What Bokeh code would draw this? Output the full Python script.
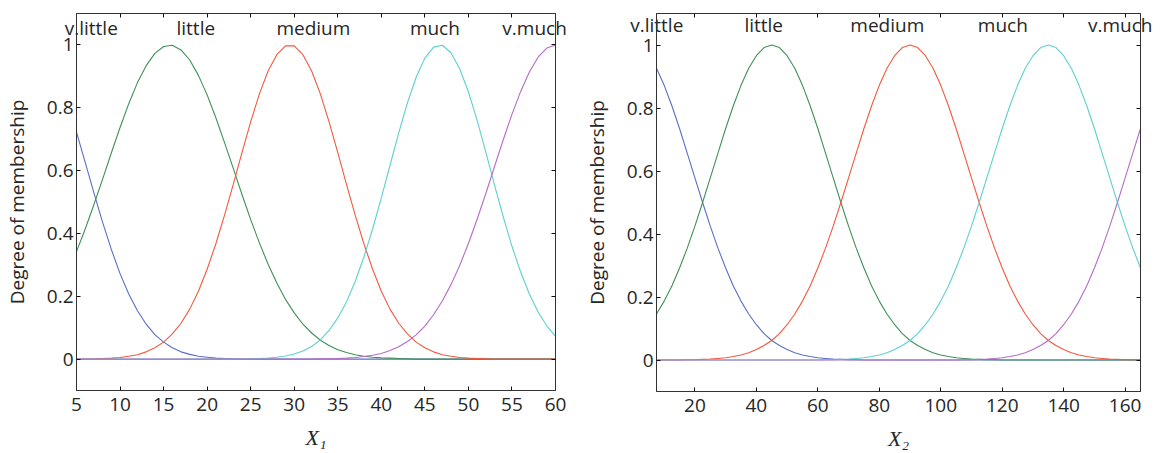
from bokeh.plotting import figure
from bokeh.models import (Range1d, LinearAxis, FixedTicker, CustomJSTickFormatter,
                          CustomLabelingPolicy)
from bokeh.layouts import row
from bokeh.embed import file_html
from bokeh.resources import INLINE

mf_names = ["v.little", "little", "medium", "much", "v.much"]

# ---- Panel 1 (input X1) : membership degree ----
x1 = [5, 6, 7, 8, 9, 10, 11, 12, 13, 14, 15, 16, 17, 18, 19, 20, 21, 22, 23, 24,
      25, 26, 27, 28, 29, 30, 31, 32, 33, 34, 35, 36, 37, 38, 39, 40, 41, 42, 43, 44,
      45, 46, 47, 48, 49, 50, 51, 52, 53, 54, 55, 56, 57, 58, 59, 60]
x1_vlittle = [0.722, 0.626, 0.529, 0.435, 0.349, 0.272, 0.207, 0.154, 0.111, 0.078,
              0.054, 0.036, 0.023, 0.015, 0.009, 0.006, 0.003, 0.002, 0.001, 0,
              0, 0, 0, 0, 0, 0, 0, 0, 0, 0, 0, 0, 0, 0, 0, 0, 0, 0, 0, 0,
              0, 0, 0, 0, 0, 0, 0, 0, 0, 0, 0, 0, 0, 0, 0, 0]
x1_little = [0.342, 0.414, 0.492, 0.573, 0.656, 0.737, 0.813, 0.880, 0.934, 0.973,
             0.995, 0.999, 0.984, 0.952, 0.903, 0.841, 0.768, 0.689, 0.607, 0.524,
             0.444, 0.370, 0.302, 0.242, 0.190, 0.147, 0.111, 0.083, 0.060, 0.043,
             0.030, 0.021, 0.014, 0.009, 0.006, 0.004, 0.003, 0.002, 0.001, 0,
             0, 0, 0, 0, 0, 0, 0, 0, 0, 0, 0, 0, 0, 0, 0, 0]
x1_medium = [0, 0, 0.001, 0.002, 0.003, 0.005, 0.009, 0.014, 0.023, 0.036,
             0.054, 0.080, 0.114, 0.159, 0.216, 0.286, 0.367, 0.458, 0.556, 0.657,
             0.755, 0.844, 0.917, 0.969, 0.997, 0.997, 0.969, 0.917, 0.844, 0.755,
             0.657, 0.556, 0.458, 0.367, 0.286, 0.216, 0.159, 0.114, 0.080, 0.054,
             0.036, 0.023, 0.014, 0.009, 0.005, 0.003, 0.002, 0.001, 0, 0,
             0, 0, 0, 0, 0, 0]
x1_much = [0, 0, 0, 0, 0, 0, 0, 0, 0, 0, 0, 0, 0, 0, 0, 0, 0, 0, 0, 0,
           0.001, 0.002, 0.003, 0.006, 0.010, 0.016, 0.026, 0.040, 0.061, 0.091,
           0.131, 0.182, 0.247, 0.325, 0.414, 0.513, 0.617, 0.720, 0.816, 0.897,
           0.958, 0.993, 0.999, 0.975, 0.924, 0.851, 0.760, 0.659, 0.554, 0.453,
           0.359, 0.277, 0.207, 0.150, 0.106, 0.072]
x1_vmuch = [0, 0, 0, 0, 0, 0, 0, 0, 0, 0, 0, 0, 0, 0, 0, 0, 0, 0, 0, 0,
            0, 0, 0, 0, 0, 0, 0, 0, 0.001, 0.001, 0.002, 0.003, 0.005, 0.008, 0.012,
            0.018, 0.027, 0.039, 0.056, 0.077, 0.105, 0.141, 0.185, 0.237, 0.298,
            0.368, 0.445, 0.527, 0.613, 0.698, 0.779, 0.852, 0.914, 0.961, 0.990, 1.000]

# ---- Panel 2 (input X2) ----
x2 = [7.5, 10, 12.5, 15, 17.5, 20, 22.5, 25, 27.5, 30, 32.5, 35, 37.5, 40, 42.5, 45,
      47.5, 50, 52.5, 55, 57.5, 60, 62.5, 65, 67.5, 70, 72.5, 75, 77.5, 80, 82.5, 85,
      87.5, 90, 92.5, 95, 97.5, 100, 102.5, 105, 107.5, 110, 112.5, 115, 117.5, 120,
      122.5, 125, 127.5, 130, 132.5, 135, 137.5, 140, 142.5, 145, 147.5, 150, 152.5,
      155, 157.5, 160, 162.5, 165]
x2_vlittle = [0.926, 0.872, 0.807, 0.735, 0.657, 0.578, 0.500, 0.425, 0.355, 0.292,
              0.235, 0.187, 0.146, 0.112, 0.084, 0.062, 0.046, 0.033, 0.023, 0.016,
              0.011, 0.007, 0.005, 0.003, 0.002, 0.001, 0.001,
              0, 0, 0, 0, 0, 0, 0, 0, 0, 0, 0, 0, 0, 0, 0, 0, 0, 0, 0, 0, 0, 0, 0,
              0, 0, 0, 0, 0, 0, 0, 0, 0, 0, 0, 0, 0, 0]
x2_little = [0.146, 0.187, 0.235, 0.292, 0.355, 0.425, 0.500, 0.578, 0.657, 0.735,
             0.807, 0.872, 0.926, 0.966, 0.992, 1.000, 0.992, 0.966, 0.926, 0.872,
             0.807, 0.735, 0.657, 0.578, 0.500, 0.425, 0.355, 0.292, 0.235, 0.187,
             0.146, 0.112, 0.084, 0.062, 0.046, 0.033, 0.023, 0.016, 0.011, 0.007,
             0.005, 0.003, 0.002, 0.001, 0.001,
             0, 0, 0, 0, 0, 0, 0, 0, 0, 0, 0, 0, 0, 0, 0, 0, 0, 0, 0]
x2_medium = [0, 0, 0, 0, 0.001, 0.001, 0.002, 0.003, 0.005, 0.007, 0.011, 0.016,
             0.023, 0.033, 0.046, 0.062, 0.084, 0.112, 0.146, 0.187, 0.235, 0.292,
             0.355, 0.425, 0.500, 0.578, 0.657, 0.735, 0.807, 0.872, 0.926, 0.966,
             0.992, 1.000, 0.992, 0.966, 0.926, 0.872, 0.807, 0.735, 0.657, 0.578,
             0.500, 0.425, 0.355, 0.292, 0.235, 0.187, 0.146, 0.112, 0.084, 0.062,
             0.046, 0.033, 0.023, 0.016, 0.011, 0.007, 0.005, 0.003, 0.002, 0.001,
             0.001, 0]
x2_much = [0, 0, 0, 0, 0, 0, 0, 0, 0, 0, 0, 0, 0, 0, 0, 0, 0, 0, 0, 0, 0, 0,
           0.001, 0.001, 0.002, 0.003, 0.005, 0.007, 0.011, 0.016, 0.023, 0.033,
           0.046, 0.062, 0.084, 0.112, 0.146, 0.187, 0.235, 0.292, 0.355, 0.425,
           0.500, 0.578, 0.657, 0.735, 0.807, 0.872, 0.926, 0.966, 0.992, 1.000,
           0.992, 0.966, 0.926, 0.872, 0.807, 0.735, 0.657, 0.578, 0.500, 0.425,
           0.355, 0.292]
x2_vmuch = [0, 0, 0, 0, 0, 0, 0, 0, 0, 0, 0, 0, 0, 0, 0, 0, 0, 0, 0, 0,
            0, 0, 0, 0, 0, 0, 0, 0, 0, 0, 0, 0, 0, 0, 0, 0, 0, 0, 0, 0,
            0.001, 0.001, 0.002, 0.003, 0.005, 0.007, 0.011, 0.016, 0.023, 0.033,
            0.046, 0.062, 0.084, 0.112, 0.146, 0.187, 0.235, 0.292, 0.355, 0.425,
            0.500, 0.578, 0.657, 0.735]

x1_ticks = [5, 10, 15, 20, 25, 30, 35, 40, 45, 50, 55, 60]
x2_ticks = [20, 40, 60, 80, 100, 120, 140, 160]
y_ticks = [0, 0.2, 0.4, 0.6, 0.8, 1]

# layout-only settings (anchors of the MF name labels along the top)
label_pos_1 = [6.7, 18.7, 32.2, 46.15, 57.6]
label_pos_2 = [7.6, 42.4, 82.6, 120.2, 158.6]

COLORS = ["#5a6ec8", "#3f9058", "#f2583e", "#5ecfd0", "#b46cc4"]
INK = "#262626"
FONT = "Open Sans"


def panel(xs, series, xr, xticks, sub, label_pos, name_standoff,
          fw, fh, bl, br, bt, bb):
    p = figure(frame_width=fw, frame_height=fh, x_range=Range1d(*xr),
               y_range=Range1d(-0.1, 1.1), output_backend="svg",
               toolbar_location=None, min_border_left=bl, min_border_right=br,
               min_border_top=bt, min_border_bottom=bb)
    p.background_fill_color = "white"
    p.border_fill_color = "white"
    p.outline_line_color = "#333333"
    p.outline_line_width = 1
    p.xgrid.visible = False
    p.ygrid.visible = False

    for ys, c in zip(series, COLORS):
        p.line(xs, ys, line_color=c, line_width=1.1)

    fmt = CustomJSTickFormatter(code="return String(Math.round(tick*10)/10);")
    for ax in p.yaxis:
        ax.ticker = FixedTicker(ticks=y_ticks)
        ax.formatter = fmt
        ax.axis_label = "Degree of membership"
    for ax in p.xaxis:
        ax.ticker = FixedTicker(ticks=xticks)
        ax.axis_label = "X" + sub
    for ax in list(p.xaxis) + list(p.yaxis):
        ax.major_tick_in = 4
        ax.major_tick_out = 0
        ax.minor_tick_in = 0
        ax.minor_tick_out = 0
        ax.axis_line_color = "#333333"
        ax.major_tick_line_color = "#111111"
        ax.major_label_text_font = FONT
        ax.major_label_text_font_size = "19px"
        ax.major_label_text_color = INK
        ax.axis_label_text_color = INK
    for ax in p.yaxis:
        ax.axis_label_text_font = FONT
        ax.axis_label_text_font_style = "normal"
        ax.axis_label_text_font_size = "19px"
        ax.major_label_standoff = 3
        ax.axis_label_standoff = 14
    for ax in p.xaxis:
        ax.axis_label_text_font = "Liberation Serif"
        ax.axis_label_text_font_style = "italic"
        ax.axis_label_text_font_size = "22px"
        ax.major_label_standoff = 7
        ax.axis_label_standoff = 11

    # box ticks on the top and right edges (no labels)
    hide = CustomLabelingPolicy(code="return []")
    top = LinearAxis(ticker=FixedTicker(ticks=xticks))
    right = LinearAxis(ticker=FixedTicker(ticks=y_ticks))
    for ax in (top, right):
        ax.major_tick_in = 4
        ax.major_tick_out = 0
        ax.minor_tick_in = 0
        ax.minor_tick_out = 0
        ax.major_label_text_font_size = "0px"
        ax.major_label_standoff = 0
        ax.major_label_policy = hide
        ax.axis_line_color = "#333333"
        ax.major_tick_line_color = "#111111"
    p.add_layout(top, "above")
    p.add_layout(right, "right")

    # membership-function names, written just inside the top edge
    names_axis = LinearAxis(
        ticker=FixedTicker(ticks=label_pos),
        formatter=CustomJSTickFormatter(
            args=dict(pos=label_pos, names=mf_names),
            code="""
                let k = 0;
                for (let i = 0; i < pos.length; i++) {
                    if (Math.abs(pos[i] - tick) < Math.abs(pos[k] - tick)) { k = i; }
                }
                return names[k];
            """))
    names_axis.major_tick_in = 0
    names_axis.major_tick_out = 0
    names_axis.minor_tick_in = 0
    names_axis.minor_tick_out = 0
    names_axis.axis_line_color = None
    names_axis.major_label_standoff = name_standoff
    names_axis.major_label_text_font = FONT
    names_axis.major_label_text_font_size = "19px"
    names_axis.major_label_text_color = INK
    p.add_layout(names_axis, "above")
    return p


p1 = panel(x1, [x1_vlittle, x1_little, x1_medium, x1_much, x1_vmuch], (5, 60),
           x1_ticks, "\u2081", label_pos_1, -27, 479, 377, 70, 25, 13, 58)
p2 = panel(x2, [x2_vlittle, x2_little, x2_medium, x2_much, x2_vmuch], (7.5, 165),
           x2_ticks, "\u2082", label_pos_2, -24, 484, 378, 74, 12, 11, 59)

layout = row(p1, p2)
open("out.html", "w").write(file_html(layout, INLINE))
